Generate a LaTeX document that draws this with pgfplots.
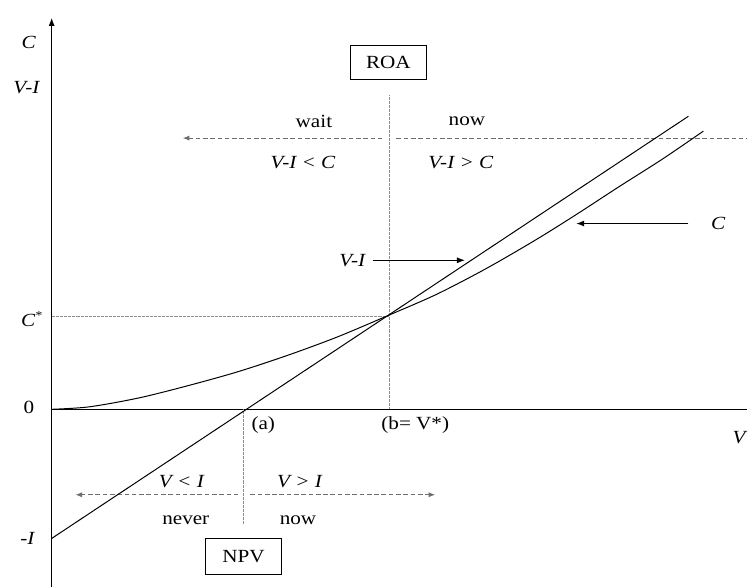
\documentclass[border=0pt]{standalone}
\usepackage{fontspec}
\setmainfont{Liberation Serif}[FakeStretch=1.14]
\usepackage{pgfplots}
\pgfplotsset{compat=1.18}
\usetikzlibrary{arrows.meta}
\definecolor{dashgray}{RGB}{110,110,110}
\definecolor{dotgray}{RGB}{140,140,140}
\begin{document}
\begin{tikzpicture}[every node/.style={font=\fontsize{14}{16}\selectfont}]
\begin{axis}[hide axis, clip=false, y dir=reverse,
  x=0.75pt, y=0.75pt, xmin=0, xmax=752, ymin=0, ymax=591,
  every axis plot/.append style={black, line width=0.75pt}]
  % frame of the picture (invisible)
  \addplot[draw=none] coordinates {(0,0) (752,591)};
  % axes
  \addplot[black, -{Latex[length=6pt,width=4.5pt]}] coordinates {(52,591) (52,18)};
  \addplot[black] coordinates {(52,412) (752,412)};
  % dotted guides
  \addplot[dotgray, line width=0.8pt, dash pattern=on 0.5pt off 0.5pt] coordinates {(52,319) (392,319)};
  \addplot[dotgray, line width=0.8pt, dash pattern=on 0.5pt off 0.5pt] coordinates {(392,96) (392,412)};
  \addplot[dotgray, line width=0.8pt, dash pattern=on 0.5pt off 0.5pt] coordinates {(245,412) (245,527)};
  % dashed region arrows
  \addplot[dashgray, dash pattern=on 3.5pt off 2pt, -{Latex[length=5pt,width=4pt]}] coordinates {(385,139) (184,139)};
  \addplot[dashgray, dash pattern=on 3.5pt off 2pt] coordinates {(399,139) (752,139)};
  \addplot[dashgray, dash pattern=on 3.5pt off 2pt, -{Latex[length=5pt,width=4pt]}] coordinates {(240,498) (76,498)};
  \addplot[dashgray, dash pattern=on 3.5pt off 2pt, -{Latex[length=5pt,width=4pt]}] coordinates {(252,498) (438,498)};
  % V-I line
  \addplot[black] coordinates {(52,542) (693,117)};
  % C curve
  \addplot[black, smooth] coordinates {(52,412) (90,409.5) (140,400.5) (190,388) (240,374)
    (290,357.5) (340,339) (392,317) (440,296) (490,270) (540,241) (580,216)
    (623,188) (667,160) (708,132)};
  % label arrows
  \addplot[black, -{Latex[length=6pt,width=4.5pt]}] coordinates {(375,262) (468,262)};
  \addplot[black, -{Latex[length=6pt,width=4.5pt]}] coordinates {(693,225) (580,225)};
  % texts
  \node at (axis cs:29,43) {\textit{C}};
  \node at (axis cs:27,88) {\textit{V-I}};
  \node at (axis cs:32,321) {\textit{C}\raisebox{0.8ex}{\fontsize{9}{10}\selectfont*}};
  \node at (axis cs:29,410) {0};
  \node at (axis cs:28,542) {\textit{-I}};
  \node at (axis cs:745,440) {\textit{V}};
  \node[draw, line width=0.75pt, minimum width=57pt, minimum height=26pt, inner sep=0pt] at (axis cs:391,63) {ROA};
  \node[draw, line width=0.75pt, minimum width=57pt, minimum height=27pt, inner sep=0pt] at (axis cs:245,560) {NPV};
  \node at (axis cs:316,122) {wait};
  \node at (axis cs:470,122) {now};
  \node at (axis cs:305,164) {\textit{V-I < C}};
  \node at (axis cs:464,164) {\textit{V-I > C}};
  \node at (axis cs:355,262) {\textit{V-I}};
  \node at (axis cs:723,225) {\textit{C}};
  \node at (axis cs:265,428) {(a)};
  \node at (axis cs:418,428) {(b= V*)};
  \node at (axis cs:183,485) {\textit{V < I}};
  \node at (axis cs:302,485) {\textit{V > I}};
  \node at (axis cs:187,524) {never};
  \node at (axis cs:300,524) {now};
\end{axis}
\end{tikzpicture}
\end{document}
